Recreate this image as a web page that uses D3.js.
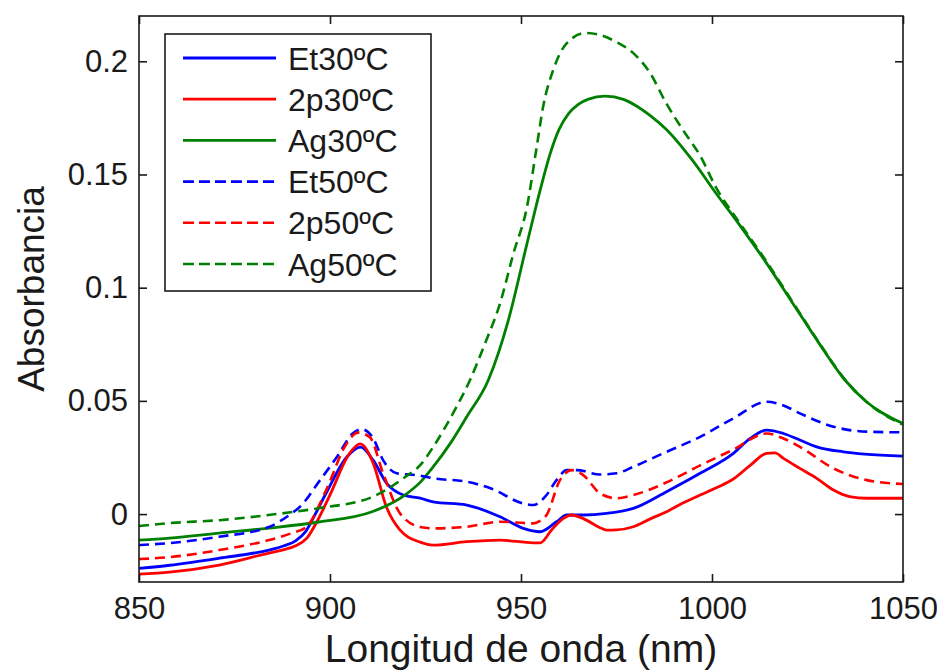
<!DOCTYPE html>
<html>
<head>
<meta charset="utf-8">
<script src="https://cdn.jsdelivr.net/npm/d3@7"></script>
<style>
  html, body { margin: 0; padding: 0; background: #ffffff; }
  svg { display: block; }
  text { font-family: "Liberation Sans", Arial, sans-serif; fill: #1a1a1a; }
</style>
</head>
<body>
<svg id="chart" width="940" height="671"></svg>
<script>
// ---------------- data (wavelength nm, absorbance) ----------------
const et30 = [[850,-0.024],[858,-0.0226],[871,-0.0195],[884,-0.0159],[888,-0.014],[891,-0.0118],[893.5,-0.008],[896,-0.0005],[899,0.0093],[904.3,0.025],[908,0.0296],[911.3,0.0238],[914.8,0.0137],[919.2,0.0084],[923.6,0.007],[927,0.0054],[935.8,0.004],[944.5,-0.0012],[950.6,-0.0063],[955,-0.0078],[959.3,-0.0034],[962,-0.0004],[966.3,-0.0004],[972.4,0.0003],[979.4,0.0025],[988.1,0.0099],[996.9,0.018],[1005.6,0.0268],[1010,0.0334],[1014.3,0.0371],[1018.7,0.0356],[1023,0.0327],[1027.4,0.0297],[1034.4,0.0275],[1040,0.0265],[1050,0.0256]];
const tp30 = [[850,-0.0265],[858,-0.0256],[871,-0.0225],[884,-0.0172],[888,-0.0157],[891,-0.014],[894,-0.0105],[897,-0.002],[900,0.0085],[905.2,0.027],[907.9,0.031],[911.3,0.0225],[914.8,0.003],[918.3,-0.007],[923.6,-0.0124],[927,-0.0137],[935.8,-0.0122],[944.5,-0.0115],[953.2,-0.0127],[955,-0.0127],[958,-0.007],[961,-0.002],[963.3,-0.0004],[966.3,-0.002],[970.7,-0.006],[972.4,-0.0071],[975,-0.007],[979.4,-0.0056],[984,-0.002],[988.1,0.001],[992.5,0.005],[996.9,0.0084],[1001,0.0115],[1005.6,0.0155],[1010,0.0215],[1014.3,0.0268],[1016.5,0.027],[1018.7,0.0246],[1023,0.0202],[1027.4,0.0158],[1031.8,0.0106],[1036,0.0077],[1040.5,0.007],[1050,0.007]];
const ag30 = [[850,-0.0115],[858,-0.0106],[871,-0.0084],[884,-0.0062],[897,-0.0035],[911,0.001],[919.6,0.0084],[923.6,0.014],[927,0.0208],[931.4,0.031],[935.8,0.043],[941.4,0.059],[946.7,0.0857],[951.6,0.1197],[955,0.143],[957.6,0.159],[960,0.170],[962.5,0.177],[965,0.181],[967.5,0.1832],[972,0.1846],[976.8,0.1832],[980,0.1805],[984,0.1758],[988,0.170],[995,0.156],[1001,0.1418],[1007,0.1282],[1014,0.1115],[1021,0.0935],[1028,0.0755],[1034.4,0.060],[1040.5,0.0495],[1050,0.040]];
const et50 = [[850,-0.0137],[858,-0.0128],[871,-0.010],[884,-0.0057],[890,0.0004],[892,0.003],[897.4,0.015],[901.8,0.0252],[906,0.0357],[908.3,0.0375],[911.3,0.0335],[913.9,0.0238],[917.5,0.018],[923.6,0.017],[927,0.0158],[935.8,0.0143],[942,0.0114],[950.6,0.0047],[953.2,0.004],[956.5,0.008],[959.3,0.015],[962,0.0194],[964.6,0.0194],[970.7,0.0175],[975,0.018],[979.4,0.0209],[988.1,0.0275],[996.9,0.0341],[1005.6,0.0423],[1014.3,0.0496],[1018.7,0.048],[1023,0.0445],[1031.8,0.0386],[1040.5,0.0364],[1050,0.0361]];
const tp50 = [[850,-0.0199],[858,-0.019],[871,-0.0159],[884,-0.0115],[890,-0.0084],[893.8,-0.0057],[899,0.0106],[904.3,0.031],[907.3,0.036],[910.4,0.034],[913.9,0.018],[918.3,0.0004],[923.6,-0.0057],[927,-0.0063],[935.8,-0.0056],[944.5,-0.0034],[953.2,-0.0041],[955,-0.003],[956.7,-0.0004],[960.2,0.015],[963.3,0.0194],[966.3,0.0172],[970.7,0.0091],[975,0.007],[979.4,0.0084],[988.1,0.014],[996.9,0.0215],[1005.6,0.0285],[1014.3,0.0356],[1018.7,0.0334],[1023,0.0297],[1031.8,0.0202],[1040.5,0.015],[1050,0.0133]];
const ag50 = [[850,-0.0053],[858,-0.004],[871,-0.0027],[884,-0.0004],[897,0.0026],[911,0.0075],[919.6,0.0163],[923.6,0.0216],[927,0.0296],[933,0.047],[936.6,0.059],[940.5,0.075],[944.5,0.093],[948,0.115],[951.6,0.136],[954,0.161],[955.8,0.18],[958.4,0.196],[962,0.208],[967,0.2125],[970.7,0.2116],[975,0.2085],[979.4,0.2036],[983.8,0.1948],[988,0.1815],[992.4,0.1696],[997,0.158],[1001,0.1444],[1007,0.1292],[1014,0.1122],[1021,0.094],[1028,0.0758],[1034.4,0.0603],[1040.5,0.0495],[1050,0.0395]];

const seriesNames = ["Et30ºC","2p30ºC","Ag30ºC","Et50ºC","2p50ºC","Ag50ºC"];
const seriesData = [et30, tp30, ag30, et50, tp50, ag50];
const seriesColors = ["#0000ff","#ff0000","#008000","#0000ff","#ff0000","#008000"];
const seriesDashed = [false,false,false,true,true,true];

const xDomain = [850, 1050];
const yDomain = [-0.03, 0.22];
const xTickValues = [850, 900, 950, 1000, 1050];
const xTickLabels = ["850","900","950","1000","1050"];
const yTickValues = [0, 0.05, 0.1, 0.15, 0.2];
const yTickLabels = ["0","0.05","0.1","0.15","0.2"];
const xTitle = "Longitud de onda (nm)";
const yTitle = "Absorbancia";

// ---------------- layout ----------------
const plot = { left: 139, right: 903, top: 16, bottom: 582 };
const svg = d3.select("#chart");

const x = d3.scaleLinear().domain(xDomain).range([plot.left, plot.right]);
const y = d3.scaleLinear().domain(yDomain).range([plot.bottom, plot.top]);

svg.append("defs").append("clipPath").attr("id", "clip")
  .append("rect")
  .attr("x", plot.left).attr("y", plot.top)
  .attr("width", plot.right - plot.left).attr("height", plot.bottom - plot.top);

// curves
const line = d3.line()
  .x(d => x(d[0]))
  .y(d => y(d[1]))
  .curve(d3.curveMonotoneX);

const curves = svg.append("g").attr("clip-path", "url(#clip)");
seriesData.forEach((data, i) => {
  curves.append("path")
    .datum(data)
    .attr("d", line)
    .attr("fill", "none")
    .attr("stroke", seriesColors[i])
    .attr("stroke-width", seriesDashed[i] ? 2.6 : 2.8)
    .attr("stroke-dasharray", seriesDashed[i] ? "10,6" : null)
    .attr("stroke-linejoin", "round");
});

// axes (ticks inward, MATLAB box)
const tickLen = 8;
const fontSize = 31;

const xAxisB = d3.axisBottom(x).tickValues(xTickValues)
  .tickFormat((d, i) => xTickLabels[i]).tickSize(-tickLen).tickPadding(15);
const gxb = svg.append("g").attr("transform", `translate(0,${plot.bottom})`).call(xAxisB);

const xAxisT = d3.axisTop(x).tickValues(xTickValues).tickFormat("").tickSize(-tickLen);
const gxt = svg.append("g").attr("transform", `translate(0,${plot.top})`).call(xAxisT);

const yAxisL = d3.axisLeft(y).tickValues(yTickValues)
  .tickFormat((d, i) => yTickLabels[i]).tickSize(-tickLen).tickPadding(11);
const gyl = svg.append("g").attr("transform", `translate(${plot.left},0)`).call(yAxisL);

const yAxisR = d3.axisRight(y).tickValues(yTickValues).tickFormat("").tickSize(-tickLen);
const gyr = svg.append("g").attr("transform", `translate(${plot.right},0)`).call(yAxisR);

[gxb, gxt, gyl, gyr].forEach(g => {
  g.select(".domain").remove();
  g.selectAll(".tick line").attr("stroke", "#1a1a1a").attr("stroke-width", 1.6);
  g.selectAll(".tick text").attr("font-size", fontSize).attr("fill", "#1a1a1a")
    .style("font-family", '"Liberation Sans", Arial, sans-serif');
});

// frame
svg.append("rect")
  .attr("x", plot.left).attr("y", plot.top)
  .attr("width", plot.right - plot.left).attr("height", plot.bottom - plot.top)
  .attr("fill", "none").attr("stroke", "#1a1a1a").attr("stroke-width", 1.6);

// axis titles
svg.append("text")
  .attr("x", (plot.left + plot.right) / 2)
  .attr("y", 662)
  .attr("text-anchor", "middle")
  .attr("font-size", 39)
  .text(xTitle);

svg.append("text")
  .attr("transform", "translate(44,289) rotate(-90)")
  .attr("text-anchor", "middle")
  .attr("font-size", 37)
  .text(yTitle);

// legend
const legend = { left: 165, top: 34, right: 431, bottom: 291 };
svg.append("rect")
  .attr("x", legend.left).attr("y", legend.top)
  .attr("width", legend.right - legend.left).attr("height", legend.bottom - legend.top)
  .attr("fill", "#ffffff").attr("stroke", "#1a1a1a").attr("stroke-width", 1.6);

const legendY0 = 58, legendStep = 41.2;
seriesNames.forEach((name, i) => {
  const ly = legendY0 + i * legendStep;
  svg.append("line")
    .attr("x1", 183).attr("x2", 276)
    .attr("y1", ly).attr("y2", ly)
    .attr("stroke", seriesColors[i])
    .attr("stroke-width", seriesDashed[i] ? 2.6 : 2.8)
    .attr("stroke-dasharray", seriesDashed[i] ? "11,5" : null);
  svg.append("text")
    .attr("x", 288).attr("y", ly)
    .attr("dy", "0.36em")
    .attr("font-size", 32)
    .text(name);
});
</script>
</body>
</html>
